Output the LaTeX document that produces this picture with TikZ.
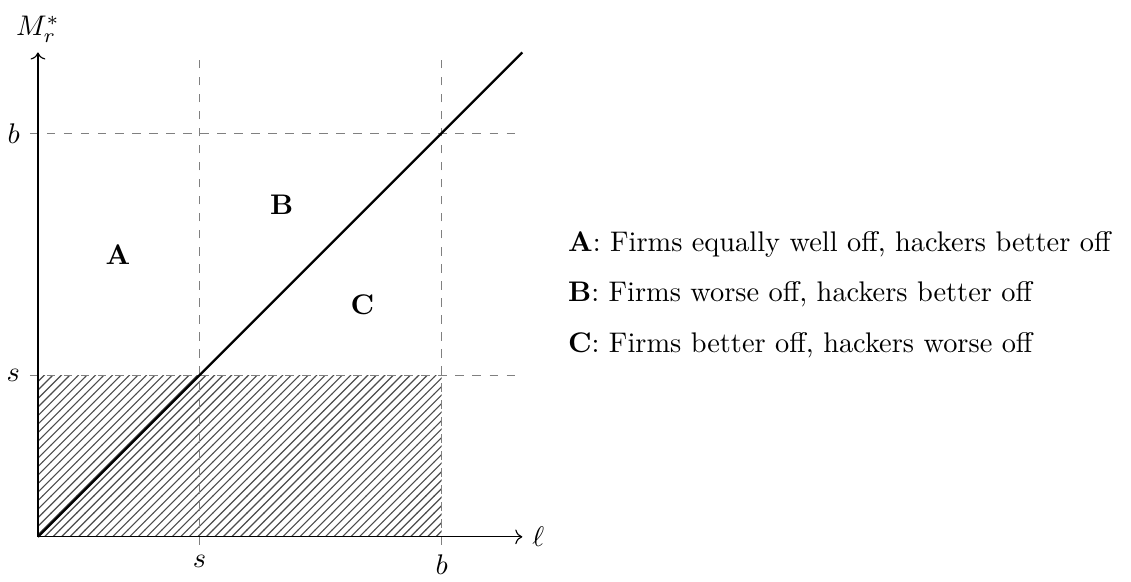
\documentclass[tikz,border=0pt]{standalone}
\usepackage{amsmath,amssymb}
\usepackage{xcolor}
\usepackage{tikz}
\usetikzlibrary{positioning,arrows.meta,patterns}

\begin{document}
\begin{tikzpicture}[
		x=1cm,y=1cm,
		axis/.style={->},
		guide/.style={dashed,gray},
		diag/.style={thick,black},
		region/.style={font=\bfseries},
		legend text/.style={anchor=base west,inner sep=0pt}
	]
		\useasboundingbox (-0.47,-0.55) rectangle (13.54,6.65);

		% Shaded region below s.
		\fill[pattern=north east lines,pattern color=black!70] (0,0) rectangle (5,2);

		% Guide lines at s and b.
		\foreach \v in {2,5} {
			\draw[guide] (\v,-0.1) -- (\v,6);
			\draw[guide] (-0.1,\v) -- (6,\v);
		}

		% Axes.
		\draw[axis] (0,0) -- (6,0) node[right] (ell) {$\ell$};
		\draw[axis] (0,0) -- (0,6) node[above] (Mr) {$M_r^*$};
		\node[below] (sx) at (2,-0.1) {$s$};
		\node[below] (bx) at (5,-0.1) {$b$};
		\node[left] (sy) at (-0.1,2) {$s$};
		\node[left] (by) at (-0.1,5) {$b$};

		% The 45 degree line.
		\draw[diag] (0,0) -- (6,6);

		% Region names.
		\node[region] (A) at (0.99,3.50) {A};
		\node[region] (B) at (3.02,4.11) {B};
		\node[region] (C) at (4.02,2.88) {C};

		% Legend.
		\node[legend text] (legA) at (6.56,3.54) {\textbf{A}: Firms equally well off, hackers better off};
		\node[below=6.3mm of legA.base west,legend text] (legB) {\textbf{B}: Firms worse off, hackers better off};
		\node[below=6.3mm of legB.base west,legend text] (legC) {\textbf{C}: Firms better off, hackers worse off};
	\end{tikzpicture}
\end{document}
